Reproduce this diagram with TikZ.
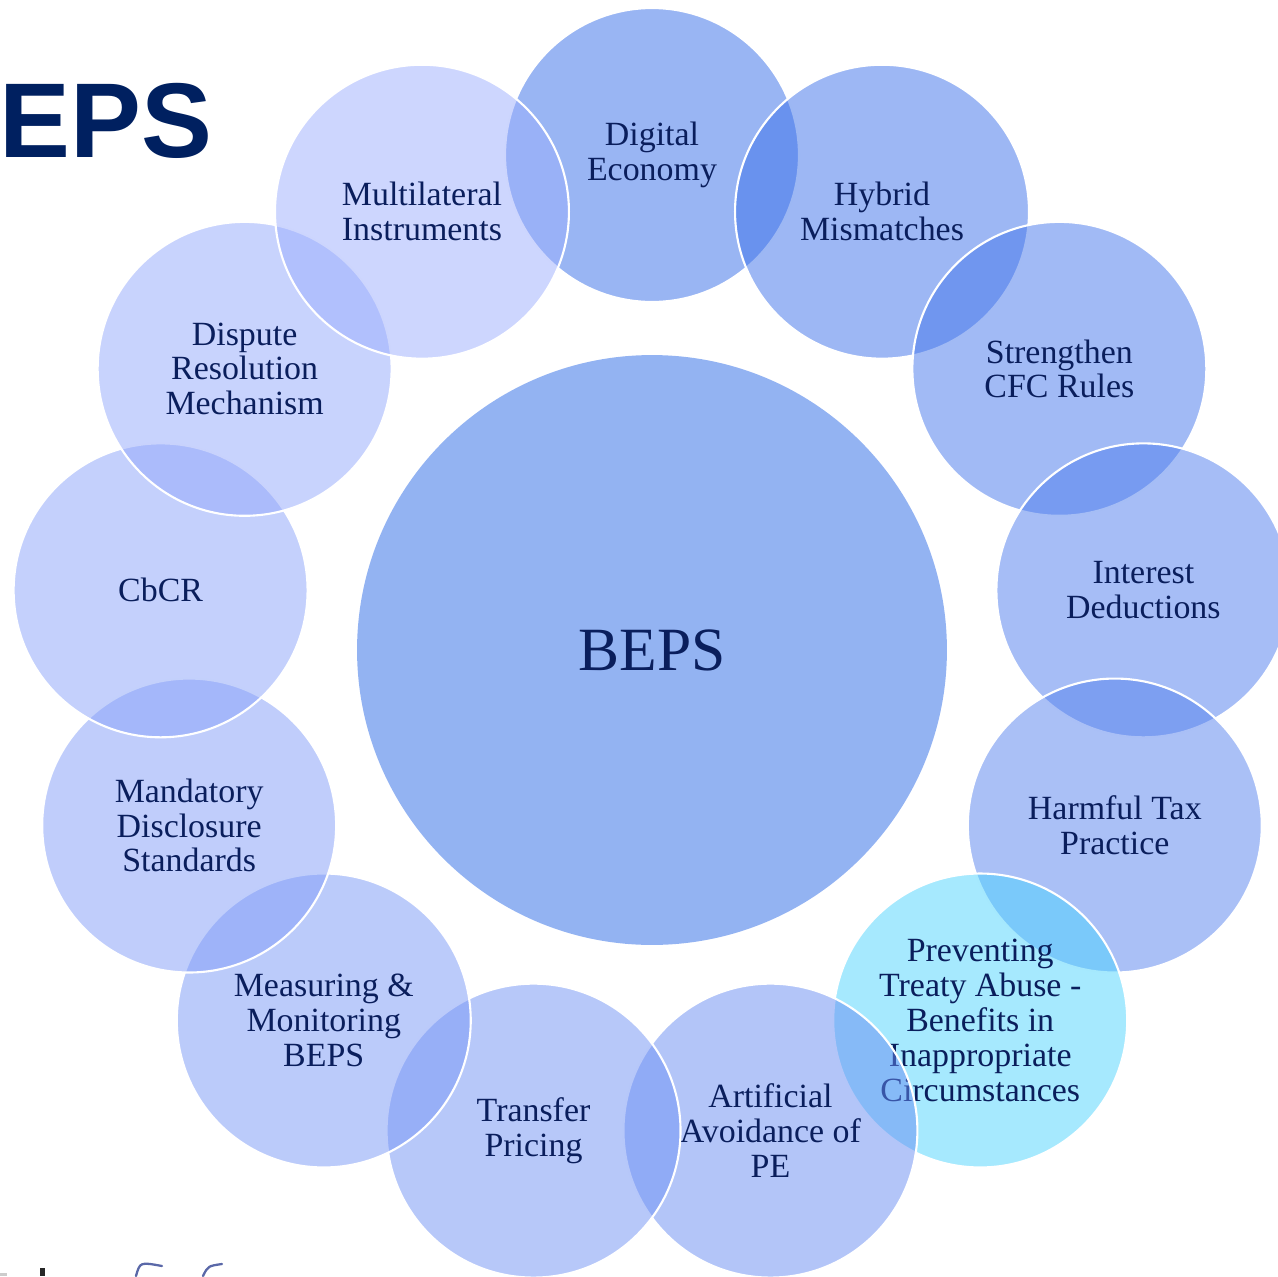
\documentclass[tikz,border=0pt]{standalone}
\usepackage{fontspec}
\setmainfont{Liberation Serif}
\newfontfamily\headfont{Liberation Sans}

\definecolor{ink}{HTML}{0A1E5C}
\definecolor{navy}{HTML}{002060}
\definecolor{ringstart}{HTML}{336BE7}
\definecolor{ringend}{HTML}{9BADFD}
\definecolor{treaty}{HTML}{4DD3FD}
\definecolor{hubblue}{HTML}{2767E5}
\definecolor{scrawl}{HTML}{5A68A8}

\tikzset{
  bubble/.style={circle, draw=white, line width=1.2pt, fill opacity=0.5,
                 text opacity=1, inner sep=0pt, align=center, text=ink},
  topic/.style={bubble, minimum size=5.88cm,
                font=\fontsize{19.3}{19.8}\selectfont},
  hub/.style={bubble, draw=none, fill=hubblue, minimum size=11.8cm,
              font=\fontsize{35}{40}\selectfont},
  heading/.style={anchor=base west, inner sep=0pt, text=navy,
                  font=\headfont\bfseries\fontsize{60.5}{61}\selectfont},
}

\begin{document}
\begin{tikzpicture}[x=0.02cm, y=0.02cm]

  \useasboundingbox (-652,-626) rectangle (626,650);
  \clip (-652,-626) rectangle (626,650);

  % --- title at the top left ------------------------------------------
  \node[heading] (title) at (-653,493) {EPS};

  % --- centre ----------------------------------------------------------
  \node[hub] (beps) at (0,0) {BEPS};

  % --- the thirteen action points, clockwise from the top -------------
  \foreach \k/\txt in {
      0/{Digital\\Economy},
      1/{Hybrid\\Mismatches},
      2/{Strengthen\\CFC Rules},
      3/{Interest\\Deductions},
      4/{Harmful Tax\\Practice},
      5/{Preventing\\Treaty Abuse -\\Benefits in\\Inappropriate\\Circumstances},
      6/{Artificial\\Avoidance of\\PE},
      7/{Transfer\\Pricing},
      8/{Measuring \&\\Monitoring\\BEPS},
      9/{Mandatory\\Disclosure\\Standards},
      10/{CbCR},
      11/{Dispute\\Resolution\\Mechanism},
      12/{Multilateral\\Instruments}} {
    \pgfmathtruncatemacro\pct{100*\k/12}
    \colorlet{shade}{ringend!\pct!ringstart}
    \ifnum\k=5 \colorlet{shade}{treaty}\fi
    \node[topic, fill=shade] (topic\k) at ({90-\k*360/13}:495) {\txt};
  }

  % --- bits of a logo cut off at the bottom ----------------------------
  \fill[black!85] (-612,-618) rectangle (-607,-626);
  \fill[black!20] (-652,-623) rectangle (-645,-626);
  \draw[scrawl, line width=1.3pt, line cap=round]
    (-516,-626) .. controls (-512,-612) .. (-490,-616);
  \draw[scrawl, line width=1.3pt, line cap=round]
    (-449,-626) .. controls (-444,-616) .. (-430,-614);

\end{tikzpicture}
\end{document}
